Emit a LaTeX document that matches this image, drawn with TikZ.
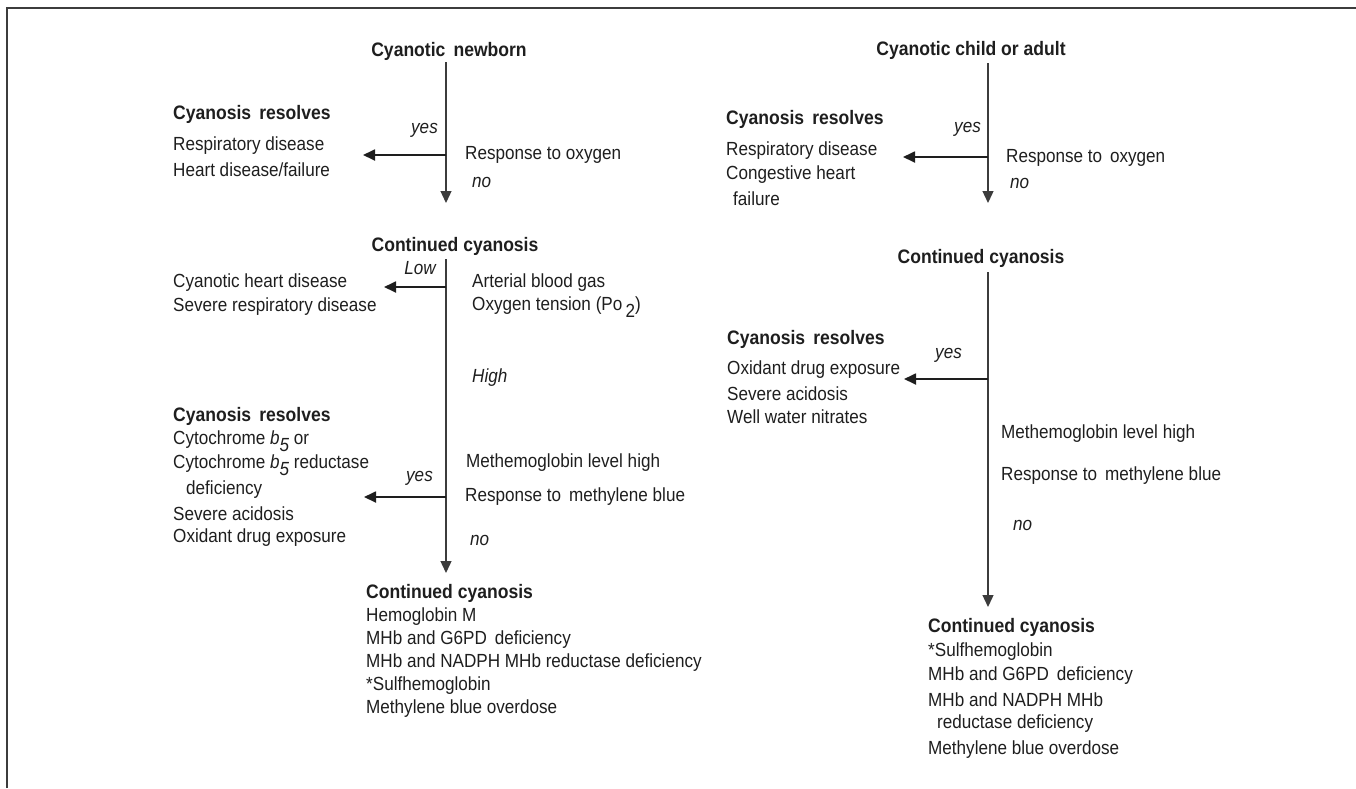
\documentclass[tikz,border=0pt]{standalone}
\usepackage{fontspec}
\setmainfont[FakeStretch=0.9]{Liberation Sans}
\usetikzlibrary{arrows.meta}
\definecolor{ink}{HTML}{1E1E1E}
\definecolor{rule}{HTML}{3C3C3C}
\tikzset{
  txt/.style={anchor=west, inner sep=0pt, text=ink, font=\fontsize{19}{23}\selectfont},
  hd/.style={txt, font=\fontsize{19.5}{23}\selectfont\bfseries},
  lab/.style={anchor=east, inner sep=0pt, text=ink, font=\fontsize{19}{23}\selectfont\itshape},
  labr/.style={txt, font=\fontsize{19}{23}\selectfont\itshape},
  vline/.style={draw=rule, line width=1.3pt, -{Triangle[length=12pt,width=11pt]}},
  harr/.style={draw=ink, line width=1.8pt, -{Triangle[length=12pt,width=11pt]}},
  framel/.style={draw=rule, line width=1.6pt}
}
\newcommand{\bfive}{\textit{b}\raisebox{-0.35em}{\textit{5}}}
\begin{document}
\begin{tikzpicture}[x=1pt,y=-1pt]
\useasboundingbox (0,0) rectangle (1356,788);
\coordinate (fA) at (7,788);
\coordinate (fB) at (7,8);
\coordinate (fC) at (1356,8);
\draw[framel] (fA) -- (fB) -- (fC);

% ---------- left tree ----------
\node[hd, anchor=center] (L1) at (449,51) {Cyanotic\, newborn};
\coordinate (L1top) at (446,62);
\coordinate (L1tip) at (446,203);
\draw[vline] (L1top) -- (L1tip);
\node[lab] (Lyes1) at (438,130) {yes};
\coordinate (Lb1) at (446,155);
\coordinate (Lt1) at (363,155);
\draw[harr] (Lb1) -- (Lt1);
\node[hd] (Lres1) at (173,114) {Cyanosis\, resolves};
\node[txt] (Lr1a) at (173,146) {Respiratory disease};
\node[txt] (Lr1b) at (173,170) {Heart disease/failure};
\node[txt] (Lq1) at (465,155) {Response to oxygen};
\node[labr] (Lno1) at (472,182) {no};

\node[hd, anchor=center] (L2) at (455,246) {Continued cyanosis};
\coordinate (L2top) at (446,259);
\coordinate (L2tip) at (446,573);
\draw[vline] (L2top) -- (L2tip);
\node[lab] (Llow) at (436,268) {Low};
\coordinate (Lb2) at (446,287);
\coordinate (Lt2) at (384,287);
\draw[harr] (Lb2) -- (Lt2);
\node[txt] (Lr2a) at (173,283) {Cyanotic heart disease};
\node[txt] (Lr2b) at (173,307) {Severe respiratory disease};
\node[txt] (Lq2a) at (472,283) {Arterial blood gas};
\node[txt] (Lq2b) at (472,307) {Oxygen tension (Po\,\raisebox{-0.35em}{2})};
\node[labr] (Lhigh) at (472,378) {High};

\node[hd] (Lres3) at (173,416) {Cyanosis\, resolves};
\node[txt] (Lr3a) at (173,441) {Cytochrome \bfive{} or};
\node[txt] (Lr3b) at (173,465) {Cytochrome \bfive{} reductase};
\node[txt] (Lr3c) at (186,490) {deficiency};
\node[txt] (Lr3d) at (173,514) {Severe acidosis};
\node[txt] (Lr3e) at (173,538) {Oxidant drug exposure};
\node[txt] (Lq3a) at (466,463) {Methemoglobin level high};
\node[lab] (Lyes3) at (433,478) {yes};
\coordinate (Lb3) at (446,497);
\coordinate (Lt3) at (364,497);
\draw[harr] (Lb3) -- (Lt3);
\node[txt] (Lq3b) at (465,497) {Response to\, methylene blue};
\node[labr] (Lno3) at (470,540) {no};

\node[hd] (L4) at (366,593) {Continued cyanosis};
\node[txt] (L4a) at (366,617) {Hemoglobin M};
\node[txt] (L4b) at (366,640) {MHb and G6PD\, deficiency};
\node[txt] (L4c) at (366,663) {MHb and NADPH MHb reductase deficiency};
\node[txt] (L4d) at (366,686) {*Sulfhemoglobin};
\node[txt] (L4e) at (366,709) {Methylene blue overdose};

% ---------- right tree ----------
\node[hd, anchor=center] (R1) at (971,50) {Cyanotic child or adult};
\coordinate (R1top) at (988,63);
\coordinate (R1tip) at (988,203);
\draw[vline] (R1top) -- (R1tip);
\node[lab] (Ryes1) at (981,129) {yes};
\coordinate (Rb1) at (988,157);
\coordinate (Rt1) at (903,157);
\draw[harr] (Rb1) -- (Rt1);
\node[hd] (Rres1) at (726,119) {Cyanosis\, resolves};
\node[txt] (Rr1a) at (726,151) {Respiratory disease};
\node[txt] (Rr1b) at (726,175) {Congestive heart};
\node[txt] (Rr1c) at (733,199) {failure};
\node[txt] (Rq1) at (1006,158) {Response to\, oxygen};
\node[labr] (Rno1) at (1010,183) {no};

\node[hd, anchor=center] (R2) at (981,258) {Continued cyanosis};
\coordinate (R2top) at (988,272);
\coordinate (R2tip) at (988,607);
\draw[vline] (R2top) -- (R2tip);
\node[hd] (Rres2) at (727,339) {Cyanosis\, resolves};
\node[lab] (Ryes2) at (962,355) {yes};
\coordinate (Rb2) at (988,379);
\coordinate (Rt2) at (904,379);
\draw[harr] (Rb2) -- (Rt2);
\node[txt] (Rr2a) at (727,370) {Oxidant drug exposure};
\node[txt] (Rr2b) at (727,394) {Severe acidosis};
\node[txt] (Rr2c) at (727,417) {Well water nitrates};
\node[txt] (Rq2a) at (1001,434) {Methemoglobin level high};
\node[txt] (Rq2b) at (1001,476) {Response to\, methylene blue};
\node[labr] (Rno2) at (1013,525) {no};

\node[hd] (R4) at (928,627) {Continued cyanosis};
\node[txt] (R4a) at (928,652) {*Sulfhemoglobin};
\node[txt] (R4b) at (928,676) {MHb and G6PD\, deficiency};
\node[txt] (R4c) at (928,700) {MHb and NADPH MHb};
\node[txt] (R4d) at (937,724) {reductase deficiency};
\node[txt] (R4e) at (928,750) {Methylene blue overdose};
\end{tikzpicture}
\end{document}
